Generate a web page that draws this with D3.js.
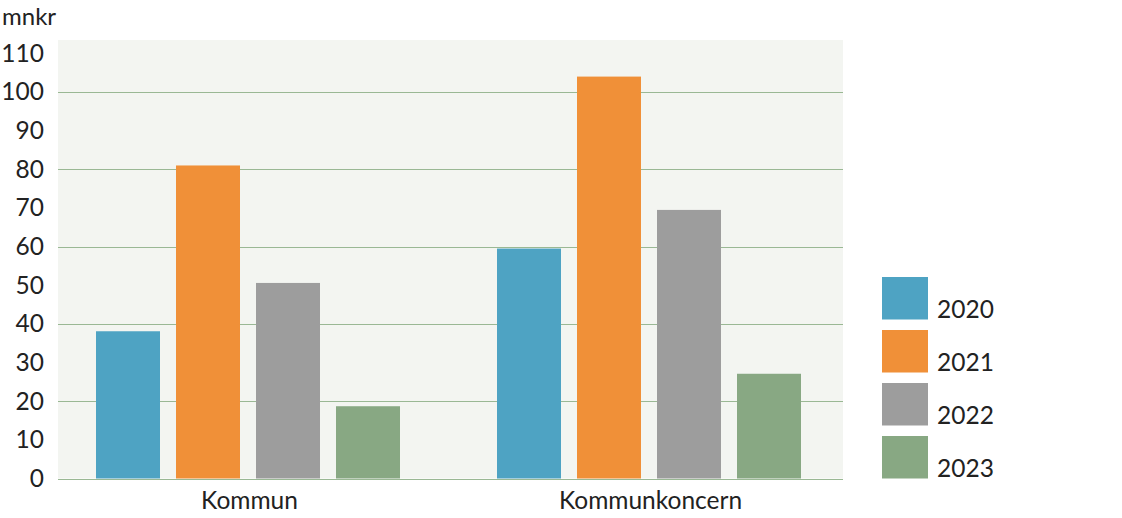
<!DOCTYPE html>
<html>
<head>
<meta charset="utf-8">
<script src="https://cdn.jsdelivr.net/npm/d3@7"></script>
<style>
  html, body { margin: 0; padding: 0; background: #fff; }
  svg { display: block; font-family: Lato, "Noto Sans", sans-serif; }
</style>
</head>
<body>
<svg id="chart" width="1122" height="518"></svg>
<script>
const categories = ["Kommun", "Kommunkoncern"];
const years = ["2020", "2021", "2022", "2023"];
const values2020 = [38.1, 59.5];
const values2021 = [81.0, 104.0];
const values2022 = [50.6, 69.5];
const values2023 = [18.7, 27.1];
const yTicks = [0, 10, 20, 30, 40, 50, 60, 70, 80, 90, 100, 110];
const gridTicks = [20, 40, 60, 80, 100];
const unitLabel = "mnkr";
const colors = ["#4ea3c3", "#f09038", "#9d9d9d", "#88a883"];

const seriesValues = [values2020, values2021, values2022, values2023];
const data = categories.map((c, i) => ({
  category: c,
  values: years.map((y, j) => ({ year: y, value: seriesValues[j][i] }))
}));

const FS = 24.5;
const svg = d3.select("#chart");
const plot = { left: 58, right: 843, top: 40, bottom: 478.5 };

const y = d3.scaleLinear().domain([0, 110]).range([478.5, 53.4]);
const x0 = d3.scaleBand().domain(categories).range([47.5, 849.5]).paddingInner(0).paddingOuter(0);
const x1 = d3.scaleBand().domain(years).range([0, 320]).paddingInner(0.2).paddingOuter(0.1);
const groupOffset = (x0.bandwidth() - 320) / 2;
const color = d3.scaleOrdinal().domain(years).range(colors);

// background
svg.append("rect")
  .attr("x", plot.left).attr("y", plot.top)
  .attr("width", plot.right - plot.left).attr("height", plot.bottom - plot.top)
  .attr("fill", "#f3f5f1");

// gridlines
svg.append("g").selectAll("line").data(gridTicks.concat([0])).join("line")
  .attr("x1", plot.left).attr("x2", plot.right)
  .attr("y1", d => Math.round(y(d)) + 0.5).attr("y2", d => Math.round(y(d)) + 0.5)
  .attr("stroke", "#9ab894").attr("stroke-width", 1.2);

// bars
const groups = svg.append("g").selectAll("g").data(data).join("g")
  .attr("transform", d => `translate(${x0(d.category) + groupOffset},0)`);
groups.selectAll("rect").data(d => d.values).join("rect")
  .attr("x", d => x1(d.year))
  .attr("width", x1.bandwidth())
  .attr("y", d => y(d.value))
  .attr("height", d => y(0) - y(d.value))
  .attr("fill", d => color(d.year));

// y axis
const yAxis = d3.axisLeft(y).tickValues(yTicks).tickSize(0).tickPadding(0);
const ya = svg.append("g").attr("transform", "translate(44,0)").call(yAxis);
ya.select(".domain").remove();
ya.selectAll("text").attr("font-size", FS).attr("fill", "#222").attr("font-family", "Lato, 'Noto Sans', sans-serif");

// x axis
const xAxis = d3.axisBottom(x0).tickSize(0).tickPadding(0);
const xa = svg.append("g").attr("transform", `translate(${1.5},491.5)`).call(xAxis);
xa.select(".domain").remove();
xa.selectAll("text").attr("font-size", FS).attr("fill", "#222").attr("font-family", "Lato, 'Noto Sans', sans-serif");

// unit label
svg.append("text").attr("x", 2).attr("y", 25).attr("font-size", 24).attr("fill", "#222").text(unitLabel);

// legend
const legend = svg.append("g").selectAll("g").data(years).join("g")
  .attr("transform", (d, i) => `translate(882,${277 + i * 53})`);
legend.append("rect").attr("width", 46).attr("height", 42.5).attr("fill", d => color(d));
legend.append("text").attr("x", 55).attr("y", 41).attr("font-size", FS).attr("fill", "#222").text(d => d);
</script>
</body>
</html>
